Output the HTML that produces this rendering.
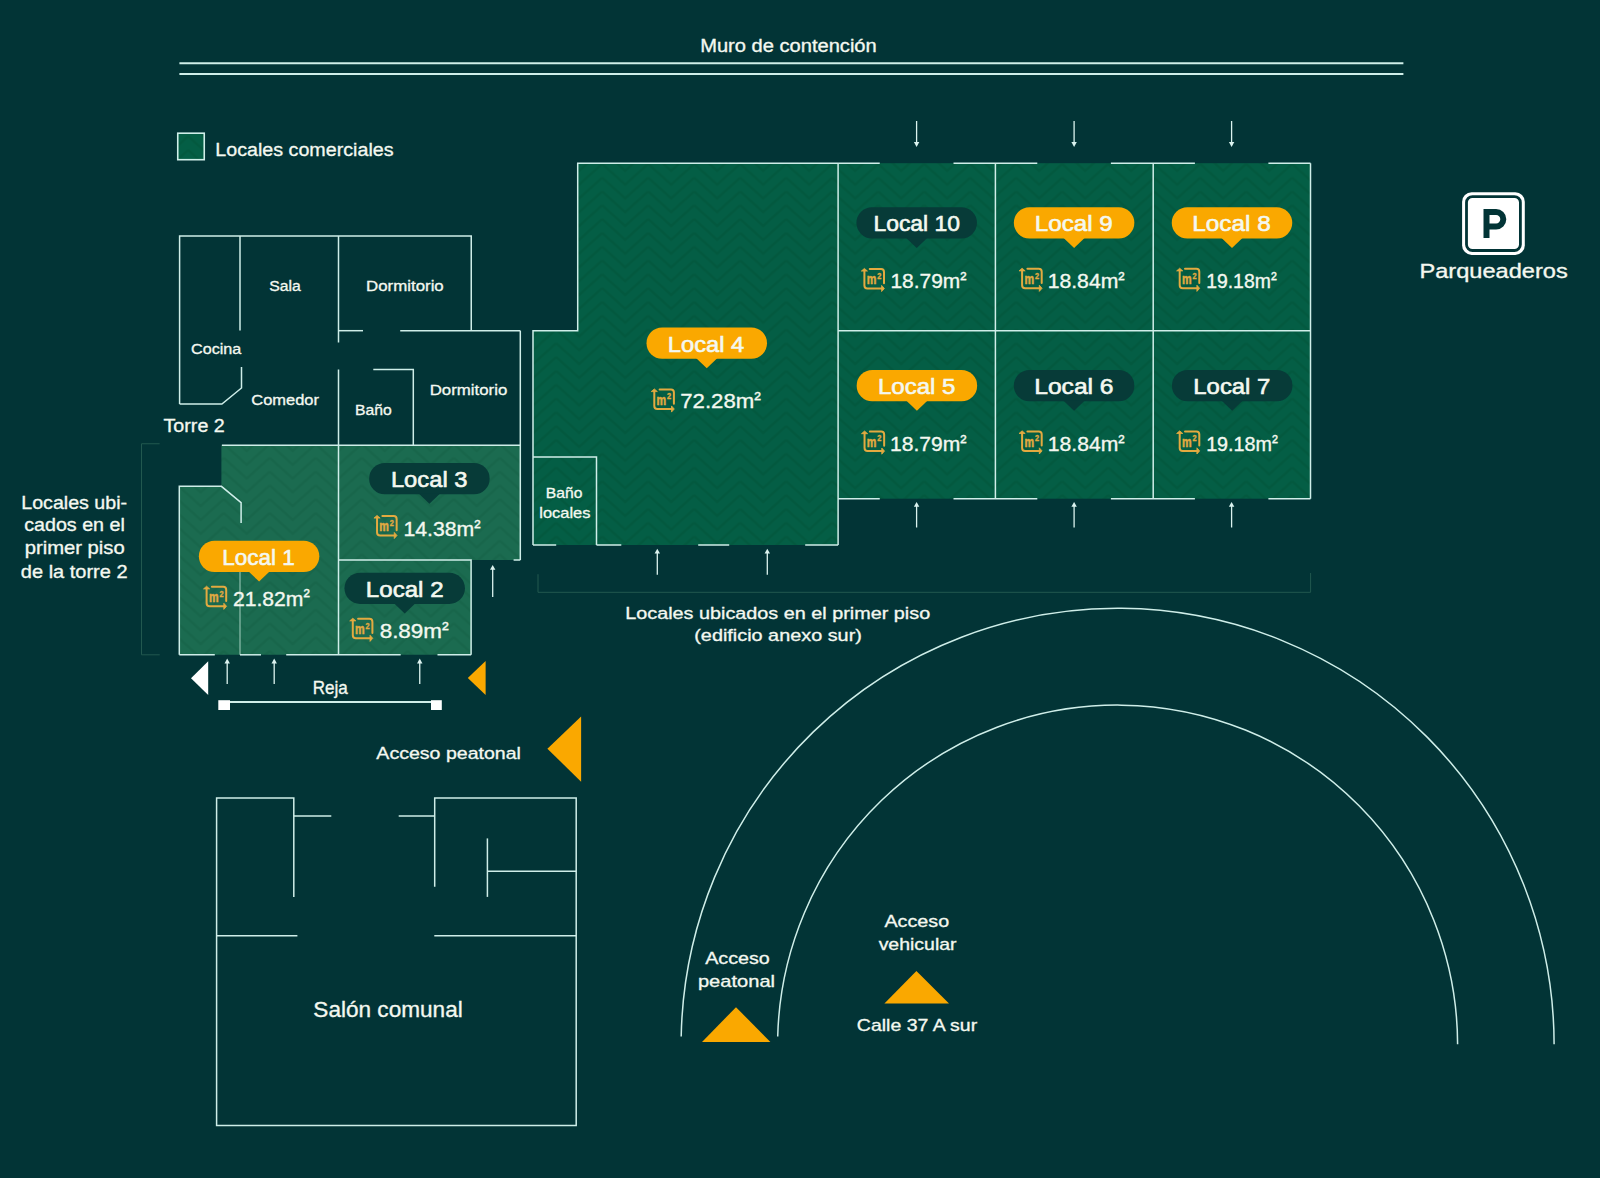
<!DOCTYPE html>
<html><head><meta charset="utf-8"><title>Plano locales</title>
<style>
html,body{margin:0;padding:0;background:#023436;}
body{width:1600px;height:1178px;overflow:hidden;font-family:"Liberation Sans",sans-serif;}
svg{display:block;}
</style></head><body>
<svg width="1600" height="1178" viewBox="0 0 1600 1178" font-family="Liberation Sans, sans-serif">
<defs>
<pattern id="pd" patternUnits="userSpaceOnUse" width="46" height="13.8" x="4.2" y="12.1">
<rect width="46" height="13.8" fill="#045E45"/>
<path d="M0 -27.6 L23 -7 L46 -27.6" stroke="#03593f" stroke-width="2.6" fill="none"/>
<path d="M0 -13.8 L23 6.8 L46 -13.8" stroke="#03593f" stroke-width="2.6" fill="none"/>
<path d="M0 0 L23 20.6 L46 0" stroke="#03593f" stroke-width="2.6" fill="none"/>
<path d="M0 13.8 L23 34.4 L46 13.8" stroke="#03593f" stroke-width="2.6" fill="none"/>
</pattern>
<pattern id="pl" patternUnits="userSpaceOnUse" width="46" height="13.8" x="39.7" y="2.4">
<rect width="46" height="13.8" fill="#1b6b50"/>
<path d="M0 -27.6 L23 -7 L46 -27.6" stroke="#18664b" stroke-width="2.6" fill="none"/>
<path d="M0 -13.8 L23 6.8 L46 -13.8" stroke="#18664b" stroke-width="2.6" fill="none"/>
<path d="M0 0 L23 20.6 L46 0" stroke="#18664b" stroke-width="2.6" fill="none"/>
<path d="M0 13.8 L23 34.4 L46 13.8" stroke="#18664b" stroke-width="2.6" fill="none"/>
</pattern>
<g id="ico">
<g fill="none" stroke="#e3aa40" stroke-width="2" stroke-linecap="round" stroke-linejoin="round">
<path d="M3.3 2.6 V17.5 Q3.3 20.5 6.3 20.5 H21.2"/>
<path d="M8.6 1 H20 Q22.9 1 22.9 3.9 V15.2"/>
</g>
<polygon points="3.3,0.4 6.4,3.1 0.2,3.1" fill="#e3aa40" stroke="#e3aa40" stroke-width="0.8" stroke-linejoin="round"/>
<polygon points="23.3,20.5 20.5,17.4 20.5,23.6" fill="#e3aa40" stroke="#e3aa40" stroke-width="0.8" stroke-linejoin="round"/>
<text x="5.6" y="16.4" font-size="14" font-weight="700" fill="#e3aa40" stroke="#e3aa40" stroke-width="0.5" textLength="9.6" lengthAdjust="spacingAndGlyphs">m</text>
<text x="16.1" y="10.9" font-size="8.6" font-weight="700" fill="#e3aa40" stroke="#e3aa40" stroke-width="0.3" textLength="4.1" lengthAdjust="spacingAndGlyphs">2</text>
</g>
</defs>
<rect width="1600" height="1178" fill="#023436"/>
<path d="M179.4 63.3 L1403.4 63.3" stroke="#cfeee9" stroke-width="2" fill="none" />
<path d="M179.4 74 L1403.4 74" stroke="#cfeee9" stroke-width="2" fill="none" />
<rect x="177.75" y="133.2" width="26.5" height="26.5" fill="url(#pd)" stroke="#cfeee9" stroke-width="1.6"/>
<polygon points="221.4,445.3 338.5,445.3 338.5,654.8 179.3,654.8 179.3,486.3 221.4,486.3" fill="url(#pl)"/>
<polygon points="338.5,445.3 520.3,445.3 520.3,560 471.1,560 471.1,654.8 338.5,654.8" fill="url(#pl)"/>
<polygon points="577.7,163.2 838.1,163.2 838.1,545 533,545 533,330.8 577.7,330.8" fill="url(#pd)"/>
<rect x="838.1" y="163.2" width="472.4" height="335.5" fill="url(#pd)"/>
<path d="M179.6 404 L179.6 236 L471.25 236 L471.25 330.7" stroke="#cfeee9" stroke-width="1.5" fill="none" />
<path d="M179.6 404 L221.9 404 L241.5 388 L241.5 367" stroke="#cfeee9" stroke-width="1.5" fill="none" />
<path d="M240 236 L240 330.6" stroke="#cfeee9" stroke-width="1.5" fill="none" />
<path d="M338.5 236 L338.5 342.5" stroke="#cfeee9" stroke-width="1.5" fill="none" />
<path d="M338.5 369.5 L338.5 654.8" stroke="#cfeee9" stroke-width="1.5" fill="none" />
<path d="M338.5 330.7 L363 330.7" stroke="#cfeee9" stroke-width="1.5" fill="none" />
<path d="M400.2 330.7 L520.3 330.7" stroke="#cfeee9" stroke-width="1.5" fill="none" />
<path d="M520.3 330.7 L520.3 560" stroke="#cfeee9" stroke-width="1.5" fill="none" />
<path d="M373.3 369.6 L413.3 369.6 L413.3 445.3" stroke="#cfeee9" stroke-width="1.5" fill="none" />
<path d="M221.9 445.3 L520.3 445.3" stroke="#cfeee9" stroke-width="1.5" fill="none" />
<path d="M338.5 560 L471.1 560 L471.1 654.8" stroke="#cfeee9" stroke-width="1.5" fill="none" />
<path d="M513.6 560 L520.3 560" stroke="#cfeee9" stroke-width="1.5" fill="none" />
<path d="M241.1 523 L241.1 502.7 L221.4 486.3 L179.3 486.3 L179.3 654.8" stroke="#cfeee9" stroke-width="1.5" fill="none" />
<path d="M240 560 L240 654.8" stroke="#8fbfae" stroke-width="1.2" fill="none" />
<path d="M179.3 654.8 L214.8 654.8" stroke="#cfeee9" stroke-width="1.5" fill="none" />
<path d="M240 654.8 L261 654.8" stroke="#cfeee9" stroke-width="1.5" fill="none" />
<path d="M286.2 654.8 L400.7 654.8" stroke="#cfeee9" stroke-width="1.5" fill="none" />
<path d="M437.5 654.8 L471.1 654.8" stroke="#cfeee9" stroke-width="1.5" fill="none" />
<path d="M533 545 L533 330.8 L577.7 330.8 L577.7 163.2 L838.1 163.2" stroke="#cfeee9" stroke-width="1.5" fill="none" />
<path d="M533 457 L596.5 457 L596.5 545" stroke="#cfeee9" stroke-width="1.5" fill="none" />
<path d="M533 545 L556.2 545" stroke="#cfeee9" stroke-width="1.5" fill="none" />
<path d="M596.5 545 L621.3 545" stroke="#cfeee9" stroke-width="1.5" fill="none" />
<path d="M698.2 545 L729.2 545" stroke="#cfeee9" stroke-width="1.5" fill="none" />
<path d="M805.2 545 L838.1 545" stroke="#cfeee9" stroke-width="1.5" fill="none" />
<path d="M838.1 163.2 L838.1 545" stroke="#cfeee9" stroke-width="1.5" fill="none" />
<path d="M995.4 163.2 L995.4 498.7" stroke="#cfeee9" stroke-width="1.5" fill="none" />
<path d="M1153.2 163.2 L1153.2 498.7" stroke="#cfeee9" stroke-width="1.5" fill="none" />
<path d="M1310.5 163.2 L1310.5 498.7" stroke="#cfeee9" stroke-width="1.5" fill="none" />
<path d="M838.1 330.8 L1310.5 330.8" stroke="#cfeee9" stroke-width="1.5" fill="none" />
<path d="M838.1 163.2 L879.75 163.2" stroke="#cfeee9" stroke-width="1.5" fill="none" />
<path d="M953.5 163.2 L1037.3 163.2" stroke="#cfeee9" stroke-width="1.5" fill="none" />
<path d="M1110.9 163.2 L1194.9 163.2" stroke="#cfeee9" stroke-width="1.5" fill="none" />
<path d="M1268.4 163.2 L1310.5 163.2" stroke="#cfeee9" stroke-width="1.5" fill="none" />
<path d="M838.1 498.7 L879.75 498.7" stroke="#cfeee9" stroke-width="1.5" fill="none" />
<path d="M953.5 498.7 L1037.3 498.7" stroke="#cfeee9" stroke-width="1.5" fill="none" />
<path d="M1110.9 498.7 L1194.9 498.7" stroke="#cfeee9" stroke-width="1.5" fill="none" />
<path d="M1268.4 498.7 L1310.5 498.7" stroke="#cfeee9" stroke-width="1.5" fill="none" />
<path d="M916.6 121 V143.9" stroke="#dbf3ef" stroke-width="1.3" fill="none"/>
<polygon points="916.6,146.9 913.9,142.1 919.3,142.1" fill="#dbf3ef"/>
<path d="M916.6 527.5 V504.9" stroke="#dbf3ef" stroke-width="1.3" fill="none"/>
<polygon points="916.6,501.9 913.9,506.7 919.3,506.7" fill="#dbf3ef"/>
<path d="M1074.1 121 V143.9" stroke="#dbf3ef" stroke-width="1.3" fill="none"/>
<polygon points="1074.1,146.9 1071.4,142.1 1076.8,142.1" fill="#dbf3ef"/>
<path d="M1074.1 527.5 V504.9" stroke="#dbf3ef" stroke-width="1.3" fill="none"/>
<polygon points="1074.1,501.9 1071.4,506.7 1076.8,506.7" fill="#dbf3ef"/>
<path d="M1231.6 121 V143.9" stroke="#dbf3ef" stroke-width="1.3" fill="none"/>
<polygon points="1231.6,146.9 1228.9,142.1 1234.3,142.1" fill="#dbf3ef"/>
<path d="M1231.6 527.5 V504.9" stroke="#dbf3ef" stroke-width="1.3" fill="none"/>
<polygon points="1231.6,501.9 1228.9,506.7 1234.3,506.7" fill="#dbf3ef"/>
<path d="M657.3 574.7 V551.8" stroke="#dbf3ef" stroke-width="1.3" fill="none"/>
<polygon points="657.3,548.8 654.6,553.6 660,553.6" fill="#dbf3ef"/>
<path d="M767.3 574.7 V551.8" stroke="#dbf3ef" stroke-width="1.3" fill="none"/>
<polygon points="767.3,548.8 764.6,553.6 770,553.6" fill="#dbf3ef"/>
<path d="M492.7 596.9 V568" stroke="#dbf3ef" stroke-width="1.3" fill="none"/>
<polygon points="492.7,565 490,569.8 495.4,569.8" fill="#dbf3ef"/>
<path d="M227.2 684 V661.6" stroke="#dbf3ef" stroke-width="1.3" fill="none"/>
<polygon points="227.2,658.6 224.5,663.4 229.9,663.4" fill="#dbf3ef"/>
<path d="M274.2 684 V661.6" stroke="#dbf3ef" stroke-width="1.3" fill="none"/>
<polygon points="274.2,658.6 271.5,663.4 276.9,663.4" fill="#dbf3ef"/>
<path d="M419.75 684 V661.6" stroke="#dbf3ef" stroke-width="1.3" fill="none"/>
<polygon points="419.75,658.6 417.05,663.4 422.45,663.4" fill="#dbf3ef"/>
<path d="M159.6 443.75 L141.5 443.75 L141.5 654.8 L159.7 654.8" stroke="#22584f" stroke-width="1" fill="none" />
<path d="M538 574.2 L538 592.3 L1310.6 592.3 L1310.6 573" stroke="#22584f" stroke-width="1" fill="none" />
<polygon points="191,678.3 208.2,661.3 208.2,695.1" fill="#ffffff"/>
<polygon points="467.8,678.1 485.6,661.1 485.6,695" fill="#faa800"/>
<polygon points="547.4,748.7 581.1,716.5 581.1,781.7" fill="#faa800"/>
<polygon points="736,1007.2 702,1041.9 770.4,1041.9" fill="#faa800"/>
<polygon points="916.4,971.1 884.4,1003.5 949,1003.5" fill="#faa800"/>
<path d="M224 702 L436.5 702" stroke="#cfeee9" stroke-width="2" fill="none" />
<rect x="218.3" y="700.2" width="11.7" height="9.8" fill="#ffffff"/>
<rect x="431" y="700.2" width="10.8" height="9.8" fill="#ffffff"/>
<path d="M293.8 896.9 L293.8 798 L216.6 798 L216.6 1125.5 L576.2 1125.5 L576.2 798 L434.7 798 L434.7 886.8" stroke="#cfeee9" stroke-width="1.5" fill="none" />
<path d="M293.8 816.1 L331.3 816.1" stroke="#cfeee9" stroke-width="1.5" fill="none" />
<path d="M398.7 816.1 L434.7 816.1" stroke="#cfeee9" stroke-width="1.5" fill="none" />
<path d="M487.4 838.4 L487.4 896.9" stroke="#cfeee9" stroke-width="1.5" fill="none" />
<path d="M487.4 871.2 L576.2 871.2" stroke="#cfeee9" stroke-width="1.5" fill="none" />
<path d="M216.6 935.8 L297.4 935.8" stroke="#cfeee9" stroke-width="1.5" fill="none" />
<path d="M434.3 935.8 L576.2 935.8" stroke="#cfeee9" stroke-width="1.5" fill="none" />
<path d="M681.18 1036.5 A436.5 436.5 0 0 1 1554.1 1044.3" stroke="#cfeee9" stroke-width="1.5" fill="none"/>
<path d="M777.71 1036.5 A340 340 0 0 1 1457.6 1044.3" stroke="#cfeee9" stroke-width="1.5" fill="none"/>
<rect x="1462.1" y="192.2" width="62.7" height="62.7" rx="9.5" fill="#ffffff"/>
<rect x="1466.5" y="196.6" width="53.9" height="53.9" rx="6" fill="#ffffff" stroke="#023436" stroke-width="2.8"/>
<path d="M1486.5 237.9 V212.1 H1496.1 A7.2 7.2 0 0 1 1496.1 226.5 H1486.5" stroke="#023436" stroke-width="6" fill="none"/>
<rect x="856.45" y="207.2" width="120.5" height="31.3" rx="15.65" fill="#073b38"/>
<polygon points="905.7,237.5 927.7,237.5 916.7,248" fill="#073b38"/>
<rect x="1013.85" y="207.2" width="120.5" height="31.3" rx="15.65" fill="#faa800"/>
<polygon points="1063.1,237.5 1085.1,237.5 1074.1,248" fill="#faa800"/>
<rect x="1171.75" y="207.2" width="120.5" height="31.3" rx="15.65" fill="#faa800"/>
<polygon points="1221,237.5 1243,237.5 1232,248" fill="#faa800"/>
<rect x="856.65" y="370" width="120.5" height="31.3" rx="15.65" fill="#faa800"/>
<polygon points="905.9,400.3 927.9,400.3 916.9,410.8" fill="#faa800"/>
<rect x="1013.85" y="370" width="120.5" height="31.3" rx="15.65" fill="#073b38"/>
<polygon points="1063.1,400.3 1085.1,400.3 1074.1,410.8" fill="#073b38"/>
<rect x="1171.95" y="370" width="120.5" height="31.3" rx="15.65" fill="#073b38"/>
<polygon points="1221.2,400.3 1243.2,400.3 1232.2,410.8" fill="#073b38"/>
<rect x="646.5" y="327.5" width="120.5" height="31.3" rx="15.65" fill="#faa800"/>
<polygon points="695.75,357.8 717.75,357.8 706.75,368.3" fill="#faa800"/>
<rect x="369.15" y="463" width="120.5" height="31.3" rx="15.65" fill="#073b38"/>
<polygon points="418.4,493.3 440.4,493.3 429.4,503.8" fill="#073b38"/>
<rect x="198.85" y="540.7" width="120.5" height="31.3" rx="15.65" fill="#faa800"/>
<polygon points="248.1,571 270.1,571 259.1,581.5" fill="#faa800"/>
<rect x="344.45" y="572.65" width="120.5" height="31.3" rx="15.65" fill="#073b38"/>
<polygon points="393.7,602.95 415.7,602.95 404.7,613.45" fill="#073b38"/>
<use href="#ico" x="861.1" y="268"/>
<use href="#ico" x="1018.8" y="267.8"/>
<use href="#ico" x="1176.4" y="267.8"/>
<use href="#ico" x="861.25" y="430.6"/>
<use href="#ico" x="1018.8" y="430.4"/>
<use href="#ico" x="1176.4" y="430.4"/>
<use href="#ico" x="651" y="388.5"/>
<use href="#ico" x="373.75" y="515"/>
<use href="#ico" x="203.3" y="585.8"/>
<use href="#ico" x="349.5" y="617.8"/>
<text x="788.45" y="51.8" font-size="18" font-weight="400" text-anchor="middle" fill="#f4f8f0" stroke="#f4f8f0" stroke-width="0.32" textLength="176.6" lengthAdjust="spacingAndGlyphs">Muro de contención</text>
<text x="304.4" y="155.6" font-size="19.2" font-weight="400" text-anchor="middle" fill="#f4f8f0" stroke="#f4f8f0" stroke-width="0.32" textLength="178.3" lengthAdjust="spacingAndGlyphs">Locales comerciales</text>
<text x="285" y="291.25" font-size="15.4" font-weight="400" text-anchor="middle" fill="#f4f8f0" stroke="#f4f8f0" stroke-width="0.32" textLength="31.5" lengthAdjust="spacingAndGlyphs">Sala</text>
<text x="404.9" y="291.25" font-size="15.4" font-weight="400" text-anchor="middle" fill="#f4f8f0" stroke="#f4f8f0" stroke-width="0.32" textLength="77.7" lengthAdjust="spacingAndGlyphs">Dormitorio</text>
<text x="216.13" y="354" font-size="15.4" font-weight="400" text-anchor="middle" fill="#f4f8f0" stroke="#f4f8f0" stroke-width="0.32" textLength="50.25" lengthAdjust="spacingAndGlyphs">Cocina</text>
<text x="285.13" y="404.6" font-size="15.4" font-weight="400" text-anchor="middle" fill="#f4f8f0" stroke="#f4f8f0" stroke-width="0.32" textLength="67.75" lengthAdjust="spacingAndGlyphs">Comedor</text>
<text x="373.45" y="414.75" font-size="15.4" font-weight="400" text-anchor="middle" fill="#f4f8f0" stroke="#f4f8f0" stroke-width="0.32" textLength="36.8" lengthAdjust="spacingAndGlyphs">Baño</text>
<text x="468.5" y="394.5" font-size="15.4" font-weight="400" text-anchor="middle" fill="#f4f8f0" stroke="#f4f8f0" stroke-width="0.32" textLength="77.7" lengthAdjust="spacingAndGlyphs">Dormitorio</text>
<text x="194.13" y="431.6" font-size="18.3" font-weight="400" text-anchor="middle" fill="#f4f8f0" stroke="#f4f8f0" stroke-width="0.32" textLength="61.25" lengthAdjust="spacingAndGlyphs">Torre 2</text>
<text x="564.05" y="497.9" font-size="14.5" font-weight="400" text-anchor="middle" fill="#f4f8f0" stroke="#f4f8f0" stroke-width="0.32" textLength="36.6" lengthAdjust="spacingAndGlyphs">Baño</text>
<text x="564.9" y="517.7" font-size="14.5" font-weight="400" text-anchor="middle" fill="#f4f8f0" stroke="#f4f8f0" stroke-width="0.32" textLength="51.1" lengthAdjust="spacingAndGlyphs">locales</text>
<text x="330.3" y="694" font-size="17.7" font-weight="400" text-anchor="middle" fill="#f4f8f0" stroke="#f4f8f0" stroke-width="0.32" textLength="35.1" lengthAdjust="spacingAndGlyphs">Reja</text>
<text x="1493.6" y="278.3" font-size="19.3" font-weight="400" text-anchor="middle" fill="#f4f8f0" stroke="#f4f8f0" stroke-width="0.32" textLength="148.3" lengthAdjust="spacingAndGlyphs">Parqueaderos</text>
<text x="777.7" y="618.5" font-size="16.7" font-weight="400" text-anchor="middle" fill="#f4f8f0" stroke="#f4f8f0" stroke-width="0.32" textLength="304.9" lengthAdjust="spacingAndGlyphs">Locales ubicados en el primer piso</text>
<text x="778.05" y="640.7" font-size="16.7" font-weight="400" text-anchor="middle" fill="#f4f8f0" stroke="#f4f8f0" stroke-width="0.32" textLength="167.6" lengthAdjust="spacingAndGlyphs">(edificio anexo sur)</text>
<text x="74.15" y="508.5" font-size="17.7" font-weight="400" text-anchor="middle" fill="#f4f8f0" stroke="#f4f8f0" stroke-width="0.32" textLength="105.8" lengthAdjust="spacingAndGlyphs">Locales ubi-</text>
<text x="74.5" y="531.4" font-size="17.7" font-weight="400" text-anchor="middle" fill="#f4f8f0" stroke="#f4f8f0" stroke-width="0.32" textLength="100.5" lengthAdjust="spacingAndGlyphs">cados en el</text>
<text x="74.7" y="554.3" font-size="17.7" font-weight="400" text-anchor="middle" fill="#f4f8f0" stroke="#f4f8f0" stroke-width="0.32" textLength="100.1" lengthAdjust="spacingAndGlyphs">primer piso</text>
<text x="74.2" y="577.8" font-size="17.7" font-weight="400" text-anchor="middle" fill="#f4f8f0" stroke="#f4f8f0" stroke-width="0.32" textLength="106.7" lengthAdjust="spacingAndGlyphs">de la torre 2</text>
<text x="448.65" y="758.5" font-size="17.4" font-weight="400" text-anchor="middle" fill="#f4f8f0" stroke="#f4f8f0" stroke-width="0.32" textLength="144.6" lengthAdjust="spacingAndGlyphs">Acceso peatonal</text>
<text x="388.05" y="1016.8" font-size="21.8" font-weight="400" text-anchor="middle" fill="#f4f8f0" stroke="#f4f8f0" stroke-width="0.32" textLength="149.4" lengthAdjust="spacingAndGlyphs">Salón comunal</text>
<text x="737.5" y="964.3" font-size="17" font-weight="400" text-anchor="middle" fill="#f4f8f0" stroke="#f4f8f0" stroke-width="0.32" textLength="64.5" lengthAdjust="spacingAndGlyphs">Acceso</text>
<text x="736.5" y="986.6" font-size="17" font-weight="400" text-anchor="middle" fill="#f4f8f0" stroke="#f4f8f0" stroke-width="0.32" textLength="77.1" lengthAdjust="spacingAndGlyphs">peatonal</text>
<text x="916.8" y="926.8" font-size="17" font-weight="400" text-anchor="middle" fill="#f4f8f0" stroke="#f4f8f0" stroke-width="0.32" textLength="64.7" lengthAdjust="spacingAndGlyphs">Acceso</text>
<text x="917.6" y="949.5" font-size="17" font-weight="400" text-anchor="middle" fill="#f4f8f0" stroke="#f4f8f0" stroke-width="0.32" textLength="77.9" lengthAdjust="spacingAndGlyphs">vehicular</text>
<text x="917" y="1031.3" font-size="17" font-weight="400" text-anchor="middle" fill="#f4f8f0" stroke="#f4f8f0" stroke-width="0.32" textLength="120.3" lengthAdjust="spacingAndGlyphs">Calle 37 A sur</text>
<text x="916.7" y="231.25" font-size="22.8" font-weight="400" text-anchor="middle" fill="#f4f8f0" stroke="#f4f8f0" stroke-width="0.62" textLength="86.5" lengthAdjust="spacingAndGlyphs">Local 10</text>
<text x="1073.75" y="231.25" font-size="22.8" font-weight="400" text-anchor="middle" fill="#f4f8f0" stroke="#f4f8f0" stroke-width="0.62" textLength="78" lengthAdjust="spacingAndGlyphs">Local 9</text>
<text x="1231.5" y="231.25" font-size="22.8" font-weight="400" text-anchor="middle" fill="#f4f8f0" stroke="#f4f8f0" stroke-width="0.62" textLength="78.5" lengthAdjust="spacingAndGlyphs">Local 8</text>
<text x="916.7" y="394.3" font-size="22.8" font-weight="400" text-anchor="middle" fill="#f4f8f0" stroke="#f4f8f0" stroke-width="0.62" textLength="77.5" lengthAdjust="spacingAndGlyphs">Local 5</text>
<text x="1073.9" y="394.1" font-size="22.8" font-weight="400" text-anchor="middle" fill="#f4f8f0" stroke="#f4f8f0" stroke-width="0.62" textLength="79.3" lengthAdjust="spacingAndGlyphs">Local 6</text>
<text x="1231.85" y="394.1" font-size="22.8" font-weight="400" text-anchor="middle" fill="#f4f8f0" stroke="#f4f8f0" stroke-width="0.62" textLength="77" lengthAdjust="spacingAndGlyphs">Local 7</text>
<text x="706" y="351.5" font-size="22.8" font-weight="400" text-anchor="middle" fill="#f4f8f0" stroke="#f4f8f0" stroke-width="0.62" textLength="76.5" lengthAdjust="spacingAndGlyphs">Local 4</text>
<text x="429.21" y="486.9" font-size="22.8" font-weight="400" text-anchor="middle" fill="#f4f8f0" stroke="#f4f8f0" stroke-width="0.62" textLength="76.55" lengthAdjust="spacingAndGlyphs">Local 3</text>
<text x="258.5" y="564.5" font-size="22.8" font-weight="400" text-anchor="middle" fill="#f4f8f0" stroke="#f4f8f0" stroke-width="0.62" textLength="72.5" lengthAdjust="spacingAndGlyphs">Local 1</text>
<text x="404.7" y="596.9" font-size="22.8" font-weight="400" text-anchor="middle" fill="#f4f8f0" stroke="#f4f8f0" stroke-width="0.62" textLength="77.7" lengthAdjust="spacingAndGlyphs">Local 2</text>
<text x="928.45" y="287.8" font-size="21" font-weight="400" text-anchor="middle" fill="#f4f8f0" stroke="#f4f8f0" stroke-width="0.35" textLength="76" lengthAdjust="spacingAndGlyphs">18.79m<tspan font-size="18.69" dy="-3.1">²</tspan></text>
<text x="1086.15" y="287.8" font-size="21" font-weight="400" text-anchor="middle" fill="#f4f8f0" stroke="#f4f8f0" stroke-width="0.35" textLength="77" lengthAdjust="spacingAndGlyphs">18.84m<tspan font-size="18.69" dy="-3.1">²</tspan></text>
<text x="1241.4" y="287.8" font-size="21" font-weight="400" text-anchor="middle" fill="#f4f8f0" stroke="#f4f8f0" stroke-width="0.35" textLength="70.5" lengthAdjust="spacingAndGlyphs">19.18m<tspan font-size="18.69" dy="-3.1">²</tspan></text>
<text x="928.25" y="450.6" font-size="21" font-weight="400" text-anchor="middle" fill="#f4f8f0" stroke="#f4f8f0" stroke-width="0.35" textLength="76.5" lengthAdjust="spacingAndGlyphs">18.79m<tspan font-size="18.69" dy="-3.1">²</tspan></text>
<text x="1086.25" y="451" font-size="21" font-weight="400" text-anchor="middle" fill="#f4f8f0" stroke="#f4f8f0" stroke-width="0.35" textLength="76.8" lengthAdjust="spacingAndGlyphs">18.84m<tspan font-size="18.69" dy="-3.1">²</tspan></text>
<text x="1242" y="451" font-size="21" font-weight="400" text-anchor="middle" fill="#f4f8f0" stroke="#f4f8f0" stroke-width="0.35" textLength="71.7" lengthAdjust="spacingAndGlyphs">19.18m<tspan font-size="18.69" dy="-3.1">²</tspan></text>
<text x="720.5" y="408" font-size="21" font-weight="400" text-anchor="middle" fill="#f4f8f0" stroke="#f4f8f0" stroke-width="0.35" textLength="80.5" lengthAdjust="spacingAndGlyphs">72.28m<tspan font-size="18.69" dy="-3.1">²</tspan></text>
<text x="442" y="535.6" font-size="21" font-weight="400" text-anchor="middle" fill="#f4f8f0" stroke="#f4f8f0" stroke-width="0.35" textLength="77.1" lengthAdjust="spacingAndGlyphs">14.38m<tspan font-size="18.69" dy="-3.1">²</tspan></text>
<text x="271.35" y="605.5" font-size="21" font-weight="400" text-anchor="middle" fill="#f4f8f0" stroke="#f4f8f0" stroke-width="0.35" textLength="76.8" lengthAdjust="spacingAndGlyphs">21.82m<tspan font-size="18.69" dy="-3.1">²</tspan></text>
<text x="414.2" y="637.6" font-size="21" font-weight="400" text-anchor="middle" fill="#f4f8f0" stroke="#f4f8f0" stroke-width="0.35" textLength="69.1" lengthAdjust="spacingAndGlyphs">8.89m<tspan font-size="18.69" dy="-3.1">²</tspan></text>
</svg>
</body></html>
